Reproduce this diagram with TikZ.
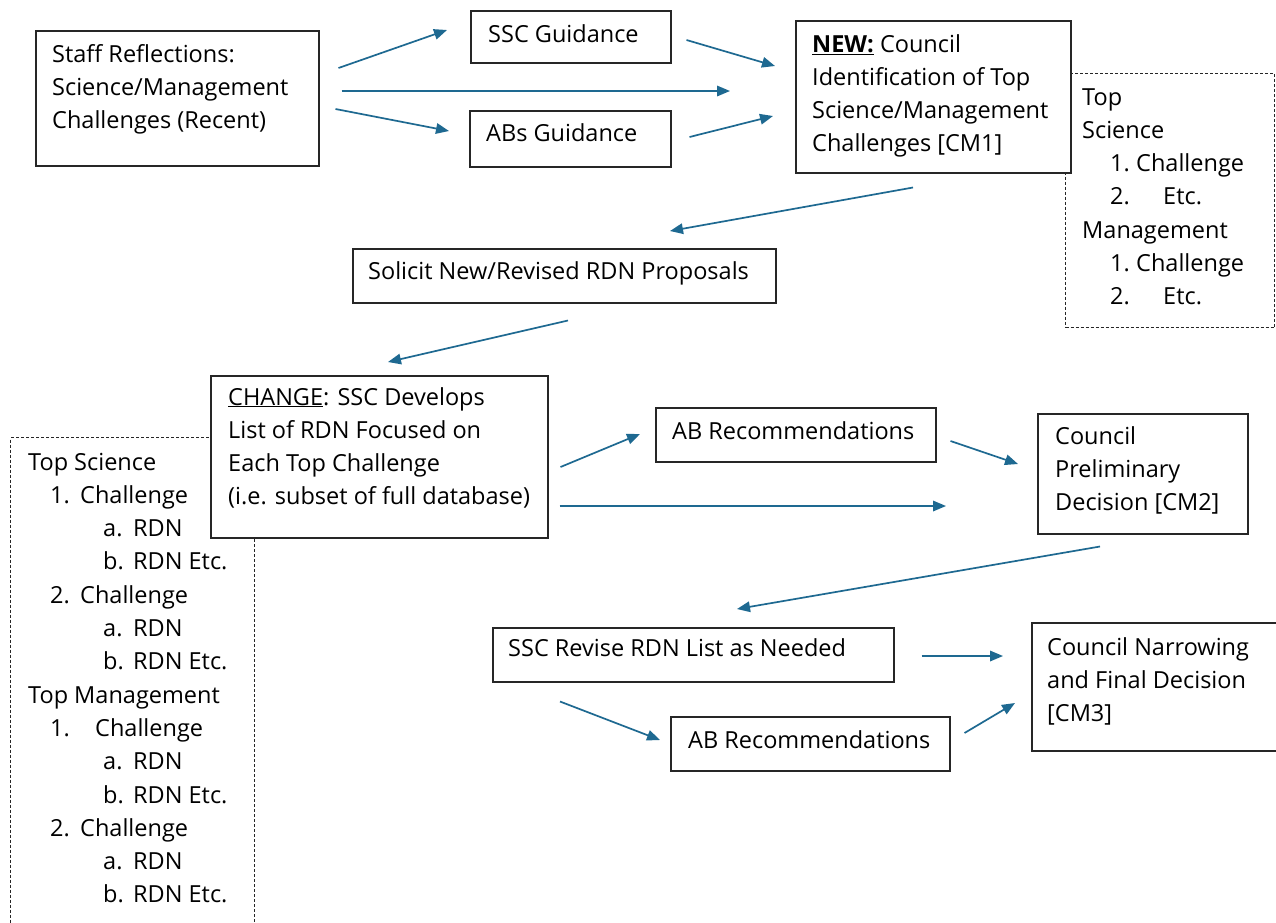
\documentclass[tikz,border=0pt]{standalone}
\usepackage{fontspec}
\setmainfont{Open Sans}
\usetikzlibrary{calc,arrows.meta}
\definecolor{arrc}{RGB}{30,105,145}
\newcommand{\listline}[4]{\hspace*{#1pt}\makebox[#2pt][l]{#3}#4}
\tikzset{
  box/.style={draw=black!85, line width=1.5pt, fill=white, anchor=north west, inner sep=0pt},
  dbox/.style={draw=black!85, line width=1pt, dash pattern=on 3pt off 2pt, anchor=north west, inner sep=0pt},
  txt/.style={anchor=base west, inner sep=0pt, align=left, font=\fontsize{23.5pt}{33.3pt}\selectfont},
  arr/.style={draw=arrc, line width=1.7pt, -{Triangle[length=13pt,width=10.5pt]}}
}
\begin{document}
\begin{tikzpicture}[x=1pt,y=-1pt]
\useasboundingbox (0,0) rectangle (1276,922);
\clip (0,0) rectangle (1276,922);
\fill[white] (0,0) rectangle (1276,922);
% dashed list boxes
\node[dbox, minimum width=209, minimum height=254] (toplist) at (1065,73) {};
\node[dbox, minimum width=244, minimum height=520] (rdnlist) at (10,437) {};
% solid boxes
\node[box, minimum width=283, minimum height=135] (staff) at (35,30) {};
\node[box, minimum width=200, minimum height=52] (ssc) at (470,10) {};
\node[box, minimum width=201, minimum height=56] (abg) at (469,110) {};
\node[box, minimum width=275, minimum height=152] (cm1) at (795,20) {};
\node[box, minimum width=423, minimum height=54] (sol) at (352,248) {};
\node[box, minimum width=337, minimum height=162] (chg) at (210,375) {};
\node[box, minimum width=280, minimum height=54] (abr1) at (655,407) {};
\node[box, minimum width=210, minimum height=120] (cm2) at (1037,413) {};
\node[box, minimum width=401, minimum height=54] (rev) at (492,627) {};
\node[box, minimum width=260, minimum height=128] (cm3) at (1031,622) {};
\node[box, minimum width=279, minimum height=54] (abr2) at (670,716) {};
% texts (anchor = baseline of the last line)
\node[txt] (tstaff) at (52,128.6) {Staff Reflections:\\Science/Management\\Challenges (Recent)};
\node[txt] (tssc) at (488,42) {SSC Guidance};
\node[txt] (tabg) at (486,141) {ABs Guidance};
\node[txt] (tcm1) at (812,151.9) {\underline{\textbf{NEW:}} Council\\Identification of Top\\Science/Management\\Challenges [CM1]};
\node[txt] (ttop) at (1082,304.8) {Top\\Science\\\listline{28}{26}{1.}{Challenge}\\\listline{28}{53}{2.}{Etc.}\\Management\\\listline{28}{26}{1.}{Challenge}\\\listline{28}{53}{2.}{Etc.}};
\node[txt] (tsol) at (368,279) {Solicit New/Revised RDN Proposals};
\node[txt] (tchg) at (228,504.9) {\underline{CHANGE}: SSC Develops\\List of RDN Focused on\\Each Top Challenge\\(i.e. subset of full database)};
\node[txt] (trdn) at (28,902.9) {Top Science\\
\listline{22}{30}{1.}{Challenge}\\
\listline{75}{30}{a.}{RDN}\\
\listline{75}{30}{b.}{RDN Etc.}\\
\listline{22}{30}{2.}{Challenge}\\
\listline{75}{30}{a.}{RDN}\\
\listline{75}{30}{b.}{RDN Etc.}\\
Top Management\\
\listline{22}{45}{1.}{Challenge}\\
\listline{75}{30}{a.}{RDN}\\
\listline{75}{30}{b.}{RDN Etc.}\\
\listline{22}{30}{2.}{Challenge}\\
\listline{75}{30}{a.}{RDN}\\
\listline{75}{30}{b.}{RDN Etc.}};
\node[txt] (tabr1) at (672,439) {AB Recommendations};
\node[txt] (tcm2) at (1055,510.6) {Council\\Preliminary\\Decision [CM2]};
\node[txt] (trev) at (508,656) {SSC Revise RDN List as Needed};
\node[txt] (tcm3) at (1047,721.6) {Council Narrowing\\and Final Decision\\{[CM3]}};
\node[txt] (tabr2) at (688,748) {AB Recommendations};
% arrows
\draw[arr] ($(staff.north east)+(19,38)$) -- ($(ssc.north west)+(-23,20)$);
\draw[arr] ($(staff.north east)+(22,61)$) -- ($(cm1.north west)+(-65,71)$);
\draw[arr] ($(staff.north east)+(16,79)$) -- ($(abg.north west)+(-20,21)$);
\draw[arr] ($(ssc.north east)+(15,30)$) -- ($(cm1.north west)+(-20,46)$);
\draw[arr] ($(abg.north east)+(18,27)$) -- ($(cm1.north west)+(-22,96)$);
\draw[arr] ($(cm1.south west)+(118,14)$) -- ($(sol.north west)+(318,-17)$);
\draw[arr] ($(sol.south west)+(216,17)$) -- ($(chg.north west)+(178,-13)$);
\draw[arr] ($(chg.north east)+(12,92)$) -- ($(abr1.north west)+(-15,27)$);
\draw[arr] ($(chg.north east)+(11,131)$) -- ($(cm2.north west)+(-91,93)$);
\draw[arr] ($(abr1.north east)+(14,34)$) -- ($(cm2.north west)+(-19,51)$);
\draw[arr] ($(cm2.south west)+(63,12)$) -- ($(rev.north west)+(245,-18)$);
\draw[arr] ($(rev.north east)+(27,29)$) -- ($(cm3.north west)+(-28,34)$);
\draw[arr] ($(rev.south west)+(68,19)$) -- ($(abr2.north west)+(-10,24)$);
\draw[arr] ($(abr2.north east)+(14,17)$) -- ($(cm3.north west)+(-16,81)$);
\end{tikzpicture}
\end{document}
